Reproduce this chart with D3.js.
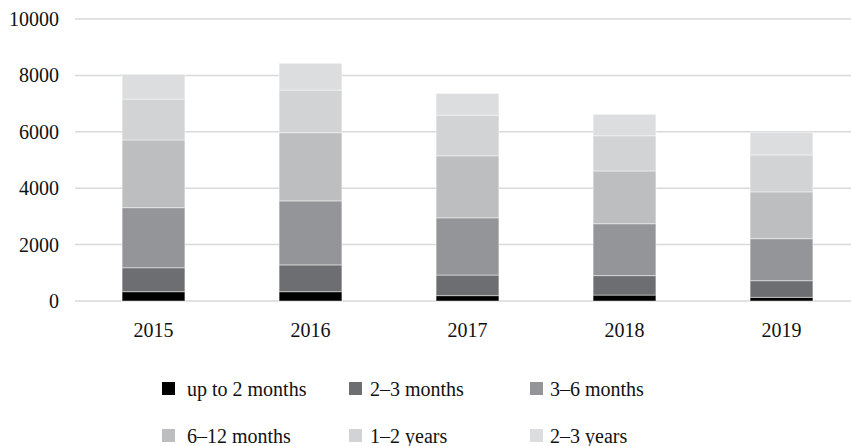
<!DOCTYPE html>
<html>
<head>
<meta charset="utf-8">
<script src="https://cdn.jsdelivr.net/npm/d3@7"></script>
<style>
  html, body { margin: 0; padding: 0; background: #fff; }
  svg { display: block; }
  text { font-family: "Liberation Serif", "DejaVu Serif", serif; fill: #111; }
</style>
</head>
<body>
<svg id="chart" width="851" height="446"></svg>
<script>
// ---- data ----
const years = ["2015", "2016", "2017", "2018", "2019"];
const seriesNames = ["up to 2 months", "2\u20133 months", "3\u20136 months", "6\u201312 months", "1\u20132 years", "2\u20133 years"];
const upTo2Months  = [330, 330, 190, 210, 130];
const months2to3   = [850, 950, 730, 690, 590];
const months3to6   = [2130, 2270, 2030, 1840, 1490];
const months6to12  = [2400, 2420, 2200, 1870, 1660];
const years1to2    = [1450, 1510, 1440, 1250, 1310];
const years2to3    = [880, 950, 770, 760, 800];
const yTicks = [0, 2000, 4000, 6000, 8000, 10000];
const colors = ["#000000", "#6d6e71", "#939598", "#bcbec0", "#d1d3d4", "#dcddde"];

const seriesValues = [upTo2Months, months2to3, months3to6, months6to12, years1to2, years2to3];
const rows = years.map((y, i) => {
  const r = { year: y };
  seriesNames.forEach((s, k) => r[s] = seriesValues[k][i]);
  return r;
});

const svg = d3.select("#chart");
const x = d3.scaleBand().domain(years).range([75, 860]).paddingInner(0.6).paddingOuter(0.3);
const y = d3.scaleLinear().domain([0, 10000]).range([301, 19]);

// gridlines
svg.append("g").selectAll("line").data(yTicks).join("line")
  .attr("x1", 75).attr("x2", 851)
  .attr("y1", d => y(d)).attr("y2", d => y(d))
  .attr("stroke", "#d9d9d9").attr("stroke-width", 1.5);

// y axis labels
const yAxis = d3.axisLeft(y).tickValues(yTicks).tickSize(0).tickPadding(0).tickFormat(d3.format("d"));
const ya = svg.append("g").attr("transform", "translate(59,0)").call(yAxis);
ya.select(".domain").remove();
ya.selectAll("text").attr("font-size", 20).attr("font-family", "Liberation Serif").attr("fill", "#111");

// stacked bars
const stack = d3.stack().keys(seriesNames)(rows);
svg.append("g").selectAll("g").data(stack).join("g")
  .attr("fill", (d, i) => colors[i])
  .selectAll("rect").data(d => d).join("rect")
  .attr("x", d => x(d.data.year))
  .attr("width", x.bandwidth())
  .attr("y", d => y(d[1]))
  .attr("height", d => y(d[0]) - y(d[1]))
  .attr("stroke", "#ffffff").attr("stroke-opacity", 0.45).attr("stroke-width", 1);

// x axis labels
const xAxis = d3.axisBottom(x).tickSize(0).tickPadding(0);
const xa = svg.append("g").attr("transform", "translate(0,337)").call(xAxis);
xa.select(".domain").remove();
xa.selectAll("text").attr("font-size", 20).attr("font-family", "Liberation Serif").attr("fill", "#111").attr("dy", 0);

// legend
const legendPos = [
  { sx: 162, tx: 187, y: 389 }, { sx: 349, tx: 370, y: 389 }, { sx: 530, tx: 550, y: 389 },
  { sx: 162, tx: 187, y: 436 }, { sx: 349, tx: 370, y: 436 }, { sx: 530, tx: 550, y: 436 }
];
const lg = svg.append("g").selectAll("g").data(seriesNames).join("g");
lg.append("rect")
  .attr("x", (d, i) => legendPos[i].sx).attr("y", (d, i) => legendPos[i].y - 7)
  .attr("width", 13).attr("height", 13)
  .attr("fill", (d, i) => colors[i]);
lg.append("text")
  .attr("x", (d, i) => legendPos[i].tx).attr("y", (d, i) => legendPos[i].y)
  .attr("dy", "0.35em").attr("font-size", 20)
  .text(d => d);
</script>
</body>
</html>
